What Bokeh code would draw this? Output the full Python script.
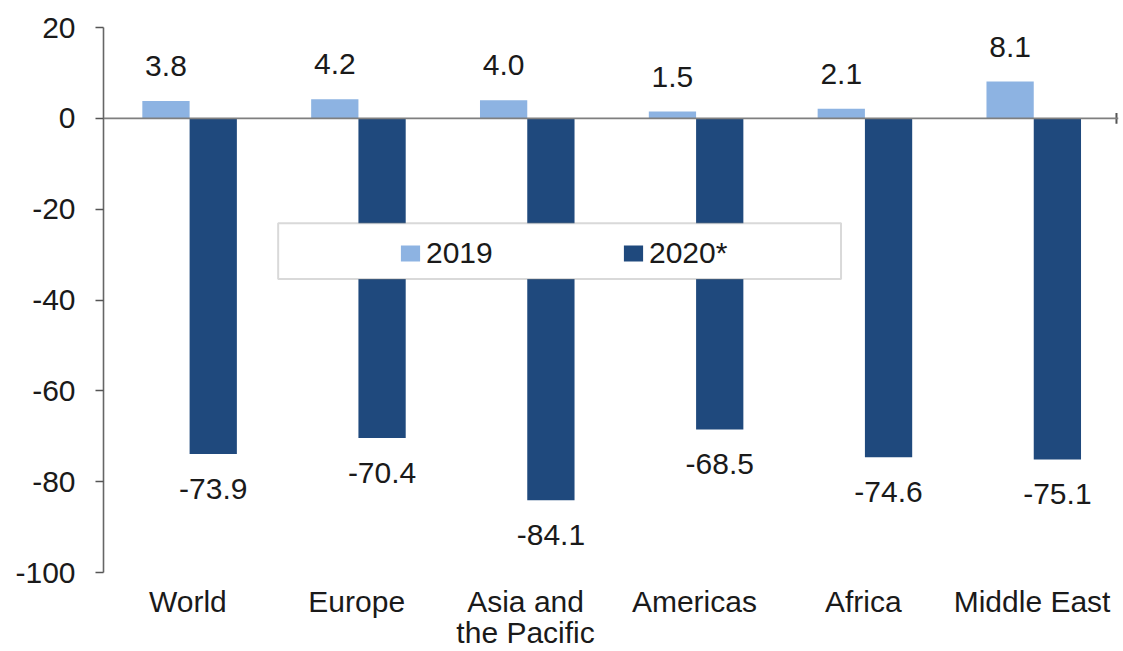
from bokeh.plotting import figure
from bokeh.models import (Range1d, FixedTicker, LinearAxis, Span, BoxAnnotation,
                          Legend, LegendItem, ColumnDataSource)
from bokeh.core.properties import value
from bokeh.embed import file_html
from bokeh.resources import INLINE

categories = ["World", "Europe", "Asia and\nthe Pacific", "Americas", "Africa", "Middle East"]
values_2019 = [3.8, 4.2, 4.0, 1.5, 2.1, 8.1]
values_2020 = [-73.9, -70.4, -84.1, -68.5, -74.6, -75.1]
y_ticks = [20, 0, -20, -40, -60, -80, -100]
series_names = ["2019", "2020*"]

FONT = "Liberation Sans"
LIGHT = "#8DB3E2"
DARK = "#1F497D"
TXT = "#1a1a1a"

n = len(categories)
centers = [i + 0.5 for i in range(n)]
x19 = [c - 0.13 for c in centers]
x20 = [c + 0.15 for c in centers]

src = ColumnDataSource(dict(
    x19=x19, x20=x20, v19=values_2019, v20=values_2020,
    l19=[f"{v:.1f}" for v in values_2019],
    l20=[f"{v:.1f}" for v in values_2020],
))

p = figure(width=1123, height=651, output_backend="svg", toolbar_location=None,
           x_range=Range1d(0, n + 0.012), y_range=Range1d(-100, 20),
           x_axis_location=None, y_axis_location=None,
           min_border_left=103, min_border_right=5, min_border_top=27, min_border_bottom=79)
p.outline_line_color = None
p.xgrid.visible = False
p.ygrid.visible = False
p.background_fill_color = "white"
p.border_fill_color = "white"

r19 = p.vbar(x="x19", top="v19", bottom=0, width=0.28, source=src,
             fill_color=LIGHT, line_color=None)
r20 = p.vbar(x="x20", top=0, bottom="v20", width=0.28, source=src,
             fill_color=DARK, line_color=None)

p.text(x="x19", y="v19", text="l19", source=src, text_align="center",
       text_baseline="alphabetic", y_offset=-35, text_font=value(FONT),
       text_font_size="30px", text_color=TXT)
p.text(x="x20", y="v20", text="l20", source=src, text_align="center",
       text_baseline="alphabetic", y_offset=35, text_font=value(FONT),
       text_font_size="30px", text_color=TXT)

# zero line with end tick
p.add_layout(Span(location=0, dimension="width", line_color="#7f7f7f", line_width=1.6))
p.segment(x0=[n], x1=[n], y0=[-1.2], y1=[1.2], line_color="#555555", line_width=2)

# y axis
yax = LinearAxis(ticker=FixedTicker(ticks=y_ticks))
yax.major_label_overrides = {t: str(t) for t in y_ticks}
yax.axis_line_color = "#666666"
yax.axis_line_width = 1.6
yax.major_tick_line_color = "#555555"
yax.major_tick_line_width = 1.6
yax.major_tick_in = 0
yax.major_tick_out = 8
yax.minor_tick_line_color = None
yax.major_label_standoff = 20
yax.major_label_text_font = FONT
yax.major_label_text_font_size = "30px"
yax.major_label_text_color = TXT
p.add_layout(yax, "left")

# category axis
xax = LinearAxis(ticker=FixedTicker(ticks=centers))
xax.major_label_overrides = {c: lab for c, lab in zip(centers, categories)}
xax.axis_line_color = None
xax.major_tick_line_color = None
xax.major_tick_in = 0
xax.major_tick_out = 0
xax.minor_tick_line_color = None
xax.major_label_standoff = 12
xax.major_label_text_font = FONT
xax.major_label_text_font_size = "30px"
xax.major_label_text_color = TXT
xax.major_label_text_line_height = 0.95
p.add_layout(xax, "below")

# legend box
p.add_layout(BoxAnnotation(left=1.0345, right=4.3685, top=-23.1, bottom=-35.4,
                           fill_color="white", fill_alpha=1.0,
                           line_color="#808080", line_width=2))
legend = Legend(items=[LegendItem(label=series_names[0], renderers=[r19]),
                       LegendItem(label=series_names[1], renderers=[r20])],
                orientation="horizontal", location=(295, 302),
                padding=0, spacing=10, label_standoff=4,
                glyph_width=24, glyph_height=20, label_height=20, label_width=185,
                border_line_color=None, background_fill_alpha=0,
                label_text_font=FONT, label_text_font_size="30px",
                label_text_color=TXT)
p.add_layout(legend, "center")

open("out.html", "w").write(file_html(p, INLINE))
